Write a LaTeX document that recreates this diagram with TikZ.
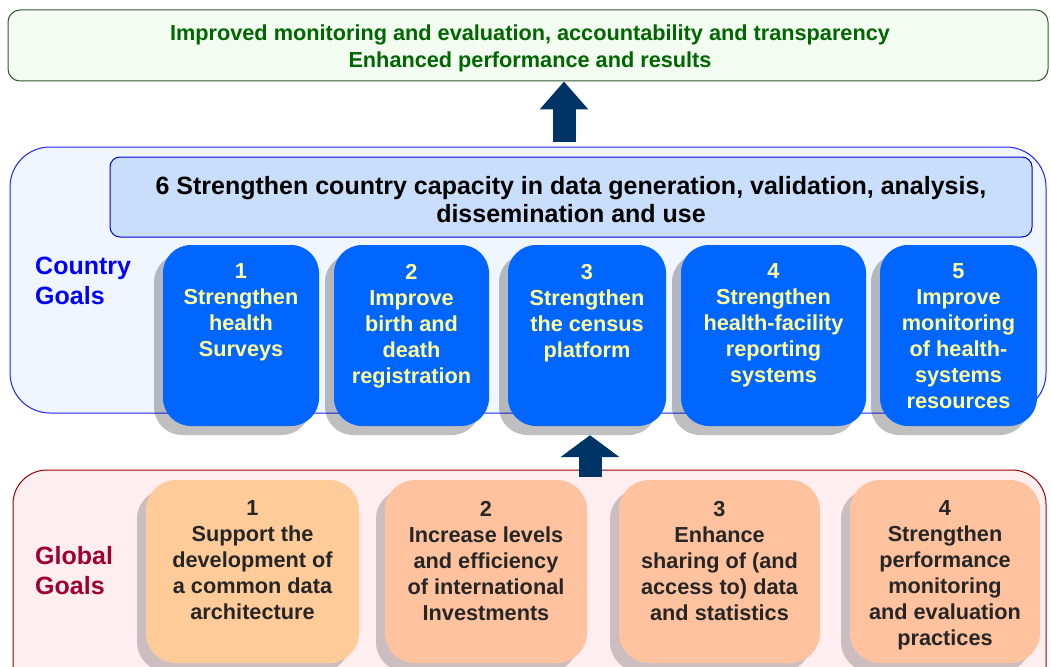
\documentclass[tikz,border=0pt]{standalone}
\usepackage{fontspec}
\setmainfont{Liberation Sans}
\usetikzlibrary{arrows.meta,positioning,shadows,calc}
\definecolor{resultgreen}{HTML}{006600}
\definecolor{resultframe}{HTML}{335533}
\definecolor{resultfill}{HTML}{F2FCF0}
\definecolor{countryframe}{HTML}{2222FF}
\definecolor{countryfill}{HTML}{F0F6FF}
\definecolor{headfill}{HTML}{C9DEFA}
\definecolor{headframe}{HTML}{0000CC}
\definecolor{goalblue}{HTML}{0066FF}
\definecolor{goalyellow}{HTML}{FFFF99}
\definecolor{globalframe}{HTML}{990000}
\definecolor{globalfill}{HTML}{FFEEF0}
\definecolor{globalred}{HTML}{A00030}
\definecolor{peachA}{HTML}{FFCC99}
\definecolor{peachB}{HTML}{FFC29E}
\definecolor{arrowblue}{HTML}{003366}
\newcommand\countryTop{245}
\newcommand\countryBot{426}
\newcommand\globalTop{480}
\newcommand\globalBot{663}
\newcommand\shadowOff{9pt}
\tikzset{
  panel/.style={draw, inner sep=0pt, line width=1pt},
  boxfont/.style={font=\fontsize{21.7}{26}\selectfont\bfseries, align=center, inner sep=0pt},
  countrybox/.style={fill=goalblue, rounded corners=28pt, inner sep=0pt,
    minimum height={(\countryBot-\countryTop)*1pt},
    drop shadow={shadow xshift=-\shadowOff, shadow yshift=-\shadowOff, fill=black, opacity=.25}},
  globalbox/.style={fill=#1, rounded corners=30pt, inner sep=0pt,
    minimum height={(\globalBot-\globalTop)*1pt},
    drop shadow={shadow xshift=-\shadowOff, shadow yshift=-\shadowOff, fill=black, opacity=.2}},
  sidelabel/.style={font=\fontsize{25}{30}\selectfont\bfseries, align=left, inner sep=0pt, anchor=north west},
  bigarrow/.style={draw=arrowblue, line width=23pt, -{Triangle[width=#1]}}
}
\begin{document}
\begin{tikzpicture}[x=1pt, y=-1pt]
  \useasboundingbox (0,0) rectangle (1051,666);

  \node[panel, draw=resultframe, fill=resultfill, rounded corners=12pt,
    minimum width=1040pt, minimum height=71pt] (result) at (528,45.5) {};
  \node[boxfont, font=\fontsize{21.7}{27}\selectfont\bfseries, text=resultgreen, anchor=north] (resultt) at (530,25)
    {Improved monitoring and evaluation, accountability and transparency\\Enhanced performance and results};

  \node[panel, draw=countryframe, fill=countryfill, rounded corners=40pt,
    minimum width=1036pt, minimum height=266pt] (country) at (528,280) {};
  \node[panel, draw=headframe, fill=headfill, rounded corners=10pt,
    minimum width=922pt, minimum height=80pt] (head) at (571,197) {};
  \node[boxfont, font=\fontsize{25}{28}\selectfont\bfseries, anchor=north] (headt) at (571,176)
    {6 Strengthen country capacity in data generation, validation, analysis,\\dissemination and use};
  \node[sidelabel, text=blue] (cgoals) at (35,257) {Country\\Goals};

  \node[panel, draw=globalframe, fill=globalfill, rounded corners=34pt,
    minimum width=1033pt, minimum height=240pt] (global) at (529.5,590) {};
  \node[sidelabel, text=globalred] (ggoals) at (35,546) {Global\\Goals};

  \foreach \nm/\xa/\xb/\txt in {c1/163/319/{1\\Strengthen\\health\\Surveys},
      c2/334/489/{2\\Improve\\birth and\\death\\registration},
      c3/508/666/{3\\Strengthen\\the census\\platform},
      c4/681/866/{4\\Strengthen\\health-facility\\reporting\\systems},
      c5/880/1037/{5\\Improve\\monitoring\\of health-\\systems\\resources}}{
    \node[countrybox, minimum width={(\xb-\xa)*1pt}] (\nm) at ({(\xa+\xb)/2},{(\countryTop+\countryBot)/2}) {};
    \node[boxfont, text=goalyellow, below=19pt of \nm.north] (\nm t) {\txt};
  }

  \foreach \nm/\xa/\xb/\col/\txt in {g1/146/359/peachA/{1\\Support the\\development of\\a common data\\architecture},
      g2/385/587/peachB/{2\\Increase levels\\and efficiency\\of international\\Investments},
      g3/619/820/peachB/{3\\Enhance\\sharing of (and\\access to) data\\and statistics},
      g4/850/1040/peachB/{4\\Strengthen\\performance\\monitoring\\and evaluation\\practices}}{
    \node[globalbox=\col, minimum width={(\xb-\xa)*1pt}] (\nm) at ({(\xa+\xb)/2},{(\globalTop+\globalBot)/2}) {};
    \node[boxfont, text=black!85, below=21pt of \nm.north] (\nm t) {\txt};
  }

  \coordinate (up1) at (564,142);
  \draw[bigarrow=47pt, -{Triangle[width=47pt,length=28pt]}] (up1) -- (up1 |- result.south);
  \coordinate (up2) at (590,477);
  \draw[bigarrow=58pt, -{Triangle[width=58pt,length=22pt]}] (up2) -- ($(up2 |- c3.south)+(0,9)$);
\end{tikzpicture}
\end{document}
